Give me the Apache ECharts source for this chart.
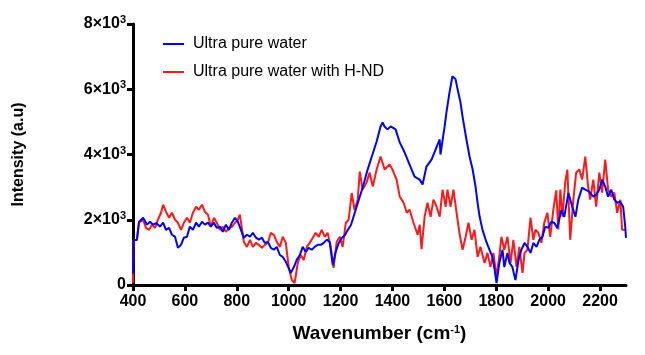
<!DOCTYPE html>
<html>
<head>
<meta charset="utf-8">
<script src="https://cdn.jsdelivr.net/npm/echarts@6/dist/echarts.min.js"></script>
<style>
html,body{margin:0;padding:0;background:#fff;}
#chart{width:645px;height:355px;}
</style>
</head>
<body>
<div id="chart"></div>
<script>
const xTicks = [400,600,800,1000,1200,1400,1600,1800,2000,2200];
const yTicks = [0,2000,4000,6000,8000];
const seriesNames = ['Ultra pure water', 'Ultra pure water with H-ND'];

const blueWn = [400,402,415,423,439,454,466,477,489,504,
516,527,539,550,562,573,585,596,608,619,
631,643,654,666,677,689,700,712,723,735,
746,758,770,781,793,804,816,827,839,851,
862,874,885,897,908,920,931,943,954,966,
977,989,1000,1008,1020,1031,1043,1054,1066,1077,
1089,1100,1112,1124,1135,1147,1158,1170,1181,1193,
1205,1216,1228,1240,1258,1270,1285,1304,1320,1339,
1354,1362,1370,1381,1393,1400,1412,1428,1447,1466,
1485,1505,1516,1531,1551,1566,1582,1585,1601,1608,
1620,1631,1643,1651,1662,1670,1685,1697,1709,1720,
1728,1736,1747,1762,1774,1785,1793,1801,1812,1824,
1831,1843,1851,1862,1874,1886,1897,1909,1920,1932,
1943,1955,1966,1978,1989,2001,2012,2024,2035,2051,
2062,2078,2093,2105,2116,2131,2143,2158,2174,2185,
2197,2208,2220,2231,2243,2255,2266,2278,2289,2297,
2300];
const blueVal = [350,1380,1380,1930,2060,1850,1940,1850,1900,1790,
1910,1690,1750,1540,1480,1140,1230,1450,1480,1790,
1690,1910,1790,1940,1850,1910,1790,1910,1750,1790,
1630,1850,1690,1910,2060,1940,1690,1450,1540,1480,
1600,1450,1390,1450,1290,1320,1140,1080,1170,920,
860,710,520,370,550,770,920,1170,1010,1140,
1080,1170,1230,1230,1290,1390,1320,610,1010,1290,
1450,1520,1690,1840,2300,2610,2980,3530,3930,4400,
4860,4980,4850,4770,4860,4860,4770,4370,4060,3690,
3320,3230,3080,3630,3850,4150,4460,4000,4860,5290,
5910,6400,6310,6000,5600,5170,4460,3940,3540,3020,
2520,2090,1690,1320,1080,860,500,60,680,1080,
550,985,680,554,150,770,1080,1290,1170,985,
1290,1170,1385,1477,1785,1754,1938,1900,1750,2300,
2090,2820,2400,2090,2615,2985,2923,2862,2708,2769,
2923,3231,3015,2708,2923,2615,2523,2550,2400,1785,
1446];

const redWn = [400,402,415,423,439,450,462,473,485,496,
508,516,527,539,550,562,573,585,596,608,
619,631,643,654,666,677,689,700,712,723,
735,746,758,770,781,793,804,812,827,839,
851,862,874,885,897,908,920,931,943,954,
966,977,989,1000,1012,1023,1035,1047,1058,1070,
1081,1093,1104,1116,1127,1139,1150,1162,1173,1185,
1197,1208,1220,1231,1243,1254,1266,1274,1285,1300,
1312,1324,1339,1354,1370,1389,1400,1416,1428,1443,
1455,1466,1481,1497,1505,1512,1524,1535,1547,1558,
1570,1582,1593,1605,1612,1624,1635,1647,1658,1670,
1682,1693,1705,1716,1728,1739,1755,1766,1778,1789,
1801,1812,1820,1831,1843,1855,1866,1878,1889,1901,
1909,1920,1932,1943,1951,1962,1974,1985,1997,2008,
2020,2031,2039,2047,2055,2066,2074,2085,2097,2108,
2120,2131,2143,2154,2162,2174,2185,2197,2208,2220,
2231,2243,2255,2266,2278,2285,2297];
const redVal = [60,1380,1380,1910,2000,1750,1690,1850,1750,2000,
2215,2460,2246,2062,2215,2000,1908,1692,1908,2062,
1908,2215,2400,2308,2462,2246,2154,1785,2062,1908,
1692,1785,1631,1754,1785,1908,2000,2154,1323,1169,
1385,1169,1292,1231,1138,1231,1292,1600,1538,1323,
1169,1477,1292,554,154,62,677,923,769,1169,
1292,1446,1600,1477,1692,1477,1600,1169,523,1323,
1477,1169,1900,2000,2820,2300,2615,3477,2923,3138,
3446,3015,3538,3938,3538,3692,3538,3231,2708,2523,
2215,2308,1908,1540,1850,1100,2100,2520,2092,2615,
2400,2092,2923,2400,2923,2400,2923,2215,1600,1077,
1477,1908,1385,1692,862,1169,677,985,554,985,
250,900,1477,1077,1477,677,1385,554,1169,369,
985,1077,2062,1385,1692,1600,1292,1908,2215,1477,
2308,2900,1700,2923,2092,3169,3538,1385,2615,3446,
3538,3231,3938,3015,2615,3231,2400,3446,2831,3846,
2923,2708,2831,2215,2615,1692,1692];

const FONT = "'Liberation Sans', Arial, Helvetica, sans-serif";
const pair = (xs, ys) => xs.map((x, i) => [x, ys[i]]);

const chart = echarts.init(document.getElementById('chart'), null, {renderer: 'canvas'});
chart.setOption({
  animation: false,
  backgroundColor: '#fff',
  grid: {left: 133, right: 19, top: 24, bottom: 70, containLabel: false},
  legend: {
    data: [
      {name: seriesNames[0], icon: 'rect', itemStyle: {color: '#0000ff'}},
      {name: seriesNames[1], icon: 'rect', itemStyle: {color: '#ff1a1a'}}
    ],
    orient: 'vertical',
    left: 163,
    top: 35,
    padding: 0,
    itemWidth: 21,
    itemHeight: 2,
    itemGap: 10,
    textStyle: {fontSize: 16, lineHeight: 18, color: '#000', fontFamily: FONT, padding: [0, 0, 0, 4]}
  },
  xAxis: {
    type: 'value',
    min: 400, max: 2300, interval: 200,
    name: 'Wavenumber (cm{sup|-1})',
    nameLocation: 'middle',
    nameGap: 39,
    nameTextStyle: {
      fontSize: 19, fontWeight: 'bold', color: '#000', fontFamily: FONT,
      rich: {sup: {fontSize: 11, fontWeight: 'bold', color: '#000', fontFamily: FONT, verticalAlign: 'top', padding: [0, 0, 8, 0]}}
    },
    axisLine: {show: true, onZero: false, lineStyle: {color: '#000', width: 3}},
    axisTick: {show: true, length: 6, lineStyle: {color: '#000', width: 3}, customValues: xTicks},
    axisLabel: {fontSize: 16, fontWeight: 'bold', color: '#000', fontFamily: FONT, margin: 9,
      customValues: xTicks, formatter: v => String(v)},
    splitLine: {show: false}
  },
  yAxis: {
    type: 'value',
    min: 0, max: 8000, interval: 2000,
    name: 'Intensity (a.u)',
    nameLocation: 'middle',
    nameGap: 106,
    nameTextStyle: {fontSize: 16, fontWeight: 'bold', color: '#000', fontFamily: FONT},
    axisLine: {show: true, onZero: false, lineStyle: {color: '#000', width: 3}},
    axisTick: {show: true, length: 6, lineStyle: {color: '#000', width: 3}},
    axisLabel: {
      fontSize: 16, fontWeight: 'bold', color: '#000', fontFamily: FONT, margin: 7,
      formatter: v => v === 0 ? '0' : (v / 1000) + '×10{sup|3}',
      rich: {sup: {fontSize: 11, fontWeight: 'bold', color: '#000', fontFamily: FONT, verticalAlign: 'top', padding: [0, 0, 8, 0]}}
    },
    splitLine: {show: false}
  },
  series: [
    {
      name: seriesNames[1], type: 'line', symbol: 'none', z: 2,
      data: pair(redWn, redVal),
      lineStyle: {color: '#ff1a1a', width: 2},
      itemStyle: {color: '#ff1a1a'}
    },
    {
      name: seriesNames[0], type: 'line', symbol: 'none', z: 3,
      data: pair(blueWn, blueVal),
      lineStyle: {color: '#0000ff', width: 2},
      itemStyle: {color: '#0000ff'}
    }
  ]
});
</script>
</body>
</html>
